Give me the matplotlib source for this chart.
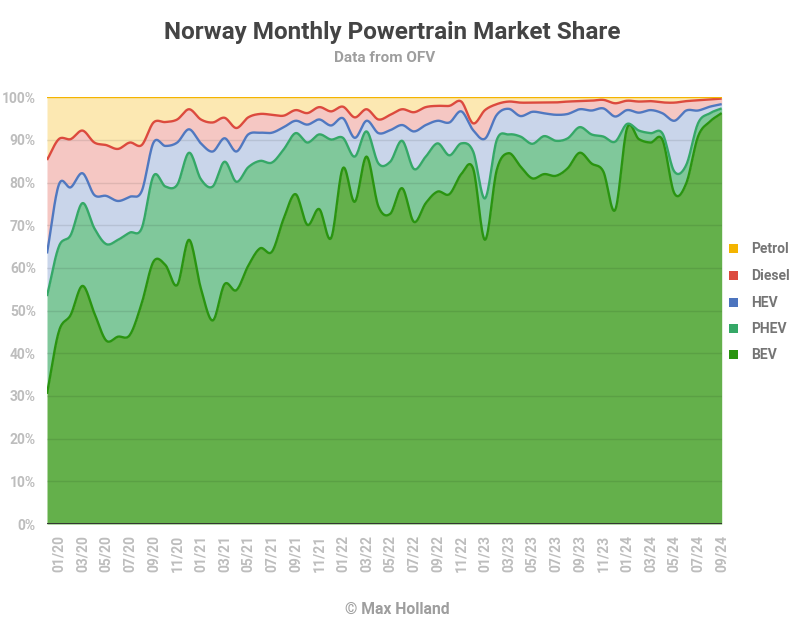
import numpy as np
import matplotlib
matplotlib.use("Agg")
import matplotlib.pyplot as plt
from matplotlib.patches import Rectangle

plt.rcParams['font.family'] = ['Roboto', 'DejaVu Sans']

# ---- data (monthly market share, %), 12/19 .. 09/24 ----
bev = [30.5, 45.1, 49.0, 55.8, 49.4, 43.0, 43.9, 44.3, 51.7, 61.5, 60.7, 56.0,
       66.6, 55.2, 47.7, 56.2, 54.8, 60.5, 64.6, 63.8, 71.6, 77.3, 70.1, 73.8,
       67.0, 83.4, 75.5, 86.1, 74.4, 72.7, 78.7, 70.8, 75.2, 77.9, 77.3, 82.0,
       83.3, 66.6, 83.0, 86.9, 83.8, 81.0, 82.0, 81.6, 83.4, 87.0, 84.5, 82.6,
       73.6, 92.7, 90.2, 89.4, 90.0, 77.5, 79.8, 90.8, 94.3, 96.3]
phev = [22.9, 19.9, 18.7, 19.4, 19.9, 22.6, 22.7, 24.0, 17.6, 20.1, 18.4, 23.5,
        20.4, 25.6, 31.4, 28.7, 25.4, 23.1, 20.5, 20.9, 16.2, 14.3, 19.3, 17.5,
        23.1, 7.1, 10.6, 5.9, 10.1, 12.2, 11.1, 12.4, 10.9, 11.3, 9.1, 7.2,
        4.0, 9.7, 7.0, 4.4, 7.0, 8.1, 8.9, 8.2, 7.0, 6.0, 6.8, 8.2,
        16.0, 1.05, 2.0, 2.2, 1.5, 5.1, 4.3, 3.1, 1.95, 1.1]
hev = [10.0, 14.5, 11.2, 7.0, 7.8, 11.3, 9.1, 8.4, 8.7, 7.8, 9.5, 9.9,
       5.5, 8.4, 8.2, 5.5, 7.1, 7.7, 6.6, 7.0, 5.2, 2.9, 4.2, 3.5,
       3.3, 4.6, 4.4, 2.5, 7.1, 7.4, 3.7, 8.8, 7.4, 5.3, 7.7, 7.5,
       5.0, 14.0, 5.9, 6.0, 4.8, 7.5, 5.35, 6.1, 5.7, 4.2, 5.6, 6.6,
       5.9, 3.25, 4.2, 5.4, 4.75, 11.9, 12.8, 3.0, 1.55, 1.0]
diesel = [21.9, 10.7, 11.3, 10.0, 12.3, 11.9, 12.2, 12.7, 10.8, 4.7, 5.6, 5.4,
          4.7, 5.6, 6.8, 4.8, 5.5, 4.0, 4.4, 4.2, 2.7, 2.5, 2.7, 2.9,
          3.3, 2.7, 4.8, 2.7, 3.2, 3.6, 3.7, 4.5, 4.2, 3.5, 3.9, 2.3,
          1.6, 6.7, 2.5, 1.7, 3.15, 2.15, 2.5, 2.9, 2.9, 1.9, 2.3, 2.0,
          3.1, 2.2, 2.6, 2.1, 2.55, 4.25, 2.2, 2.4, 1.7, 1.3]
petrol = [14.7, 9.8, 9.8, 7.8, 10.6, 11.2, 12.1, 10.6, 11.2, 5.9, 5.8, 5.2,
          2.8, 5.2, 5.9, 4.8, 7.2, 4.7, 3.9, 4.1, 4.3, 3.0, 3.7, 2.3,
          3.3, 2.2, 4.7, 2.8, 5.2, 4.1, 2.8, 3.5, 2.3, 2.0, 2.0, 1.0,
          6.1, 3.0, 1.6, 1.0, 1.25, 1.25, 1.25, 1.2, 1.0, 0.9, 0.8, 0.6,
          1.4, 0.8, 1.0, 0.9, 1.2, 1.25, 0.9, 0.7, 0.5, 0.3]
series_names = ["BEV", "PHEV", "HEV", "Diesel", "Petrol"]
tick_labels = ["01/20", "03/20", "05/20", "07/20", "09/20", "11/20",
               "01/21", "03/21", "05/21", "07/21", "09/21", "11/21",
               "01/22", "03/22", "05/22", "07/22", "09/22", "11/22",
               "01/23", "03/23", "05/23", "07/23", "09/23", "11/23",
               "01/24", "03/24", "05/24", "07/24", "09/24"]

line_colors = ["#2A9410", "#35A867", "#5078C0", "#DC4A3E", "#F4B400"]
fill_colors = ["#64B04B", "#80C89B", "#C9D5EA", "#F5C7C3", "#FCE8B2"]
legend_colors = ["#2A9410", "#35A867", "#4C74BE", "#DC4A3E", "#F4B400"]


def smooth(y, n=16):
    y = np.asarray(y, dtype=float)
    x = np.arange(len(y), dtype=float)
    m = np.empty_like(y)
    m[1:-1] = (y[2:] - y[:-2]) / 2.0
    m[0] = y[1] - y[0]
    m[-1] = y[-1] - y[-2]
    xs, ys = [], []
    for i in range(len(y) - 1):
        t = np.linspace(0, 1, n, endpoint=False)
        h00 = 2 * t**3 - 3 * t**2 + 1
        h10 = t**3 - 2 * t**2 + t
        h01 = -2 * t**3 + 3 * t**2
        h11 = t**3 - t**2
        xs.append(x[i] + t)
        ys.append(h00 * y[i] + h10 * m[i] + h01 * y[i + 1] + h11 * m[i + 1])
    xs.append([x[-1]])
    ys.append([y[-1]])
    return np.concatenate(xs), np.concatenate(ys)


data = np.array([bev, phev, hev, diesel, petrol])
cum = np.cumsum(data, axis=0)

fig = plt.figure(figsize=(8.0, 6.39), dpi=100)
ax = fig.add_axes([47 / 800, 115 / 639, 674.7 / 800, 426.7 / 639])

prev = None
curves = []
for k in range(len(series_names)):
    xs, ys = smooth(cum[k])
    curves.append((xs, ys))
    lower = np.zeros_like(ys) if prev is None else prev
    ax.fill_between(xs, lower, ys, color=fill_colors[k], lw=0, zorder=1)
    prev = ys

for yv in range(10, 100, 10):
    ax.axhline(yv, color="black", alpha=0.09, lw=1, zorder=2)

for k in range(len(series_names)):
    xs, ys = curves[k]
    ax.plot(xs, ys, color=line_colors[k], lw=1.7, zorder=3, solid_capstyle="butt")

ax.axhline(0, color="#333333", lw=1.4, zorder=4)

ax.set_xlim(0, len(bev) - 1)
ax.set_ylim(0, 100)
for s in ax.spines.values():
    s.set_visible(False)
ax.set_yticks(range(0, 101, 10))
ax.set_yticklabels([f"{v}%" for v in range(0, 101, 10)])
ax.set_xticks(range(1, len(bev), 2))
ax.set_xticklabels(tick_labels, rotation=90, va="top", ha="center")
ax.tick_params(axis="both", length=0, colors="#BDBDBD", labelsize=10)
ax.tick_params(axis="y", pad=8)
ax.tick_params(axis="x", pad=8)
for lab in ax.get_xticklabels() + ax.get_yticklabels():
    lab.set_fontweight("bold")
    lab.set_color("#BDBDBD")

# titles
fig.text(392 / 800, 1 - 33 / 639, "Norway Monthly Powertrain Market Share",
         ha="center", va="center", fontsize=17.5, fontweight="bold", color="#444444")
fig.text(385 / 800, 1 - 58 / 639, "Data from OFV",
         ha="center", va="center", fontsize=11, fontweight="bold", color="#9E9E9E")
fig.text(397 / 800, 1 - 609 / 639, "© Max Holland",
         ha="center", va="center", fontsize=11.3, fontweight="bold", color="#9E9E9E")

# legend (top to bottom: Petrol .. BEV)
leg_y = [249, 276, 303, 329, 355]
for j, k in enumerate(range(len(series_names) - 1, -1, -1)):
    yc = leg_y[j]
    fig.add_artist(Rectangle(((733 - 4) / 800, 1 - (yc + 4) / 639), 9 / 800, 9 / 639,
                             transform=fig.transFigure, color=legend_colors[k], lw=0))
    fig.text(751 / 800, 1 - yc / 639, series_names[k], ha="left", va="center",
             fontsize=10, fontweight="bold", color="#757575")

fig.savefig("out.png", dpi=100)
